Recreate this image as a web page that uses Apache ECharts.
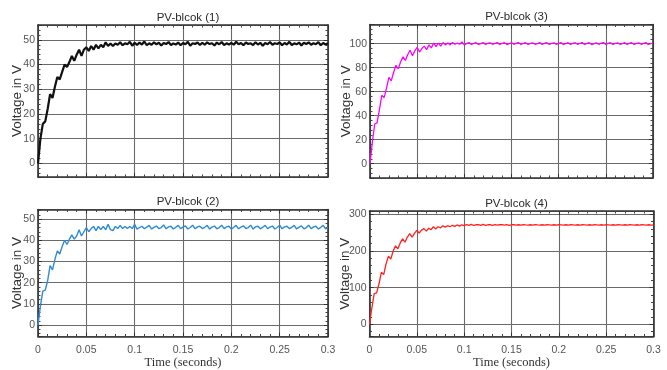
<!DOCTYPE html>
<html><head><meta charset="utf-8">
<script src="https://cdn.jsdelivr.net/npm/echarts@6/dist/echarts.min.js"></script>
<style>html,body{margin:0;padding:0;background:#fff}#c{width:667px;height:370px}</style>
</head><body><div id="c"></div>
<script>
// sampling times (seconds)
const times = [0,0.0025,0.005,0.0075,0.01,0.0125,0.015,0.0175,0.02,0.0225,0.025,0.0275,0.03,0.0325,0.035,0.0375,0.04,0.0425,0.045,0.0475,
0.05,0.0525,0.055,0.0575,0.06,0.0625,0.065,0.0675,0.07,0.0725,0.075,0.0775,0.08,0.0825,0.085,0.0875,0.09,0.0925,0.095,0.0975,
0.1,0.1025,0.105,0.1075,0.11,0.1125,0.115,0.1175,0.12,0.1225,0.125,0.1275,0.13,0.1325,0.135,0.1375,0.14,0.1425,0.145,0.1475,
0.15,0.1525,0.155,0.1575,0.16,0.1625,0.165,0.1675,0.17,0.1725,0.175,0.1775,0.18,0.1825,0.185,0.1875,0.19,0.1925,0.195,0.1975,
0.2,0.2025,0.205,0.2075,0.21,0.2125,0.215,0.2175,0.22,0.2225,0.225,0.2275,0.23,0.2325,0.235,0.2375,0.24,0.2425,0.245,0.2475,
0.25,0.2525,0.255,0.2575,0.26,0.2625,0.265,0.2675,0.27,0.2725,0.275,0.2775,0.28,0.2825,0.285,0.2875,0.29,0.2925,0.295,0.2975,0.3];

const pv1 = [0,10,16,17,22,28,26.5,31,35,34,37,40,39,41,43.5,41.5,44,46,43.5,46,47,45.5,47.5,46,48,46.5,48,47,49,47.5,48.5,47.5,48.5,48,49,47.8,48.6,48.2,49.2,47.6,48.8,
47.9,48.9,48.1,49.3,47.8,48.6,48.0,49.0,48.2,48.8,47.7,48.7,48.3,49.1,47.9,48.5,48.1,48.9,47.8,48.7,
48.2,49.2,47.6,48.6,48.3,48.9,47.9,48.8,48.0,49.0,48.3,48.6,47.7,48.9,48.2,49.1,47.9,48.6,48.1,48.8,
48.0,49.2,48.2,48.7,47.8,48.9,48.3,48.6,47.9,49.0,48.1,48.8,47.6,48.7,48.2,49.1,48.0,48.6,48.3,48.9,
47.8,48.7,48.1,49.2,47.9,48.6,48.2,48.9,47.7,48.8,48.3,49.0,48.0,48.6,48.2,49.1,47.8,48.7,48.1,48.6];

const pv2 = [0,9,16,16.5,21,28,26,31,35,33.5,37,40,38,40.5,42.5,40.5,42,45,42,44,46,44,45.5,46.5,44.5,46.5,45,46.5,45,47.5,45,44.5,46.5,45.5,47,45.5,46.5,45.5,46.5,45.5,47.5,
45.2,46.0,46.6,45.4,46.2,47.0,45.3,46.1,46.7,45.5,46.0,47.2,45.4,46.3,46.6,45.3,46.1,47.0,45.5,46.2,
46.8,45.3,46.0,47.1,45.4,46.3,46.6,45.5,46.1,47.0,45.3,46.2,46.7,45.4,46.0,47.1,45.5,46.3,46.6,45.3,
46.1,47.0,45.4,46.2,46.8,45.5,46.0,47.1,45.3,46.3,46.6,45.4,46.1,47.0,45.5,46.2,46.7,45.3,46.0,47.1,
45.4,46.3,46.6,45.5,46.1,47.0,45.3,46.2,46.8,45.4,46.0,47.1,45.5,46.3,46.6,45.3,46.1,47.0,45.4,45.9];

const pv3 = [0,18,33,34,45,57,55,63,72,69,76,82,79,85,89,86,91,94.5,90,94,97,93,96,98,95,99,96.5,100.5,97.5,100.5,98,101,99,100.5,99,101,99.5,100.5,99.5,101.5,99,
100.2,100.9,99.3,100.3,100.8,99.4,100.1,100.9,99.3,100.4,100.7,99.5,100.2,100.9,99.4,100.3,100.8,99.3,100.1,100.7,
99.5,100.4,100.9,99.4,100.2,100.8,99.3,100.3,100.7,99.5,100.1,100.9,99.4,100.4,100.8,99.3,100.2,100.7,99.5,100.3,
100.9,99.4,100.1,100.8,99.3,100.4,100.7,99.5,100.2,100.9,99.4,100.3,100.8,99.3,100.1,100.7,99.5,100.4,100.9,99.4,
100.2,100.8,99.3,100.3,100.7,99.5,100.1,100.9,99.4,100.4,100.8,99.3,100.2,100.7,99.5,100.3,100.9,99.4,100.1,100.3];

const pv4 = [0,45,84,86,110,142,136,165,186,178,200,214,206,222,233,224,238,247,238,248,256,249,257,261,254,262,258,266,260,266,263,269,265,269,266,270,267,271,268,271,269,
272,270,272.5,269.5,271.5,272,270,272.5,270,271.5,272,270,272,270.5,271.5,272,270.5,272,270,271.5,
272,270.5,271.5,270.5,272,271,270.5,271.5,270.5,272,271,270.5,271.5,270.5,271.5,271,270.5,271.5,270.5,271.5,
271,270.5,271.5,270.5,271.5,271,270.5,271.5,270.5,271.5,271,270.5,271.5,270.5,271.5,271,270.5,271.5,270.5,271.5,
271,270.5,271.5,270.5,271.5,271,270.5,271.5,270.5,271.5,271,270.5,271.5,270.5,271.5,271,270.5,271.5,270.5,271];

const titles = ['PV-blcok (1)','PV-blcok (2)','PV-blcok (3)','PV-blcok (4)'];
const yName = 'Voltage in V';
const xName = 'Time (seconds)';

const panels = [
  {title: titles[0], data: pv1, color: '#111111', lw: 2.2, grid: {left: 38, top: 25, width: 290, height: 152}, yMin: -5.5, yMax: 56, split: 6, yInt: 10, xLabels: false, nameGap: 14},
  {title: titles[2], data: pv3, color: '#ff00ff', lw: 1.3, grid: {left: 370, top: 24.5, width: 283, height: 153.5}, yMin: -12, yMax: 116, split: 6, yInt: 20, xLabels: false, nameGap: 17},
  {title: titles[1], data: pv2, color: '#2f8bd6', lw: 1.4, grid: {left: 38, top: 209.5, width: 290, height: 129.5}, yMin: -5.4, yMax: 54.5, split: 6, yInt: 10, xLabels: true, nameGap: 14},
  {title: titles[3], data: pv4, color: '#ff2222', lw: 1.3, grid: {left: 369.5, top: 211, width: 284, height: 128}, yMin: -33, yMax: 309, split: 3, yInt: 100, xLabels: true, nameGap: 17}
];

const frame = {show: true, onZero: false, lineStyle: {color: '#333', width: 1.6}};
const tickIn = {show: true, inside: true, length: 4, lineStyle: {color: '#333', width: 1}};
const minorIn = {show: true, splitNumber: 5, length: 2.5, lineStyle: {color: '#444', width: 1}};
const gridLine = {show: true, lineStyle: {color: '#6a6a6a', width: 1.1}};

const option = {animation: false, backgroundColor: '#fff', title: [], grid: [], xAxis: [], yAxis: [], series: []};

panels.forEach((p, g) => {
  option.grid.push(Object.assign({containLabel: false}, p.grid));
  option.title.push({
    text: p.title, left: p.grid.left + p.grid.width / 2, top: p.grid.top - 18.5, textAlign: 'center',
    textStyle: {fontSize: 11.5, fontWeight: 'normal', color: '#2a2a2a', fontFamily: 'Liberation Sans, Arial, sans-serif'}
  });
  option.xAxis.push({
    type: 'value', gridIndex: g, position: 'bottom', min: 0, max: 0.3, interval: 0.05,
    axisLine: frame, axisTick: tickIn, minorTick: minorIn, splitLine: gridLine,
    axisLabel: {show: p.xLabels, color: '#555', fontSize: 10.5, margin: 8, fontFamily: 'Liberation Sans, Arial, sans-serif'},
    name: p.xLabels ? xName : '', nameLocation: 'middle', nameGap: 19.5, nameMoveOverlap: false,
    nameTextStyle: {fontFamily: 'Liberation Serif, Times New Roman, serif', fontSize: 12.5, color: '#333'}
  });
  option.xAxis.push({
    type: 'value', gridIndex: g, position: 'top', min: 0, max: 0.3, interval: 0.05,
    axisLine: frame, axisTick: tickIn, minorTick: minorIn, splitLine: {show: false}, axisLabel: {show: false}
  });
  const fmt = v => (Math.abs(v / p.yInt - Math.round(v / p.yInt)) < 1e-6 ? String(Math.round(v)) : '');
  option.yAxis.push({
    type: 'value', gridIndex: g, position: 'left', min: p.yMin, max: p.yMax, splitNumber: p.split,
    axisLine: frame, axisTick: tickIn, minorTick: minorIn, splitLine: gridLine,
    axisLabel: {color: '#555', fontSize: 10.5, margin: 3, formatter: fmt, showMinLabel: false, showMaxLabel: false, fontFamily: 'Liberation Sans, Arial, sans-serif'},
    name: yName, nameLocation: 'middle', nameRotate: 90, nameGap: p.nameGap, nameMoveOverlap: false,
    nameTextStyle: {fontSize: 13.5, color: '#333', fontFamily: 'Liberation Sans, Arial, sans-serif'}
  });
  option.yAxis.push({
    type: 'value', gridIndex: g, position: 'right', min: p.yMin, max: p.yMax, splitNumber: p.split,
    axisLine: frame, axisTick: tickIn, minorTick: minorIn, splitLine: {show: false}, axisLabel: {show: false}
  });
  option.series.push({
    type: 'line', xAxisIndex: g * 2, yAxisIndex: g * 2, showSymbol: false, symbol: 'none',
    data: times.map((t, i) => [t, p.data[i]]),
    lineStyle: {color: p.color, width: p.lw}, itemStyle: {color: p.color}, clip: true
  });
});

const chart = echarts.init(document.getElementById('c'), null, {renderer: 'canvas'});
chart.setOption(option);
</script></body></html>
